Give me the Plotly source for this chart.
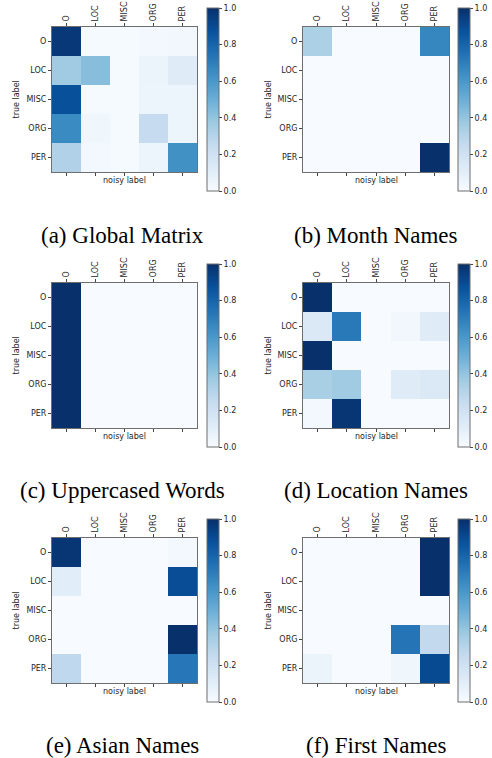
import plotly.graph_objects as go

labels = ["O", "LOC", "MISC", "ORG", "PER"]

global_matrix = [
    [0.97, 0.01, 0.01, 0.02, 0.03],
    [0.37, 0.43, 0.01, 0.06, 0.12],
    [0.88, 0.01, 0.01, 0.05, 0.05],
    [0.65, 0.04, 0.01, 0.25, 0.05],
    [0.32, 0.02, 0.01, 0.05, 0.63],
]
month_names = [
    [0.33, 0.0, 0.0, 0.0, 0.67],
    [0.0, 0.0, 0.0, 0.0, 0.0],
    [0.0, 0.0, 0.0, 0.0, 0.0],
    [0.0, 0.0, 0.0, 0.0, 0.0],
    [0.0, 0.0, 0.0, 0.0, 1.0],
]
uppercased_words = [
    [1.0, 0.0, 0.0, 0.0, 0.0],
    [1.0, 0.0, 0.0, 0.0, 0.0],
    [1.0, 0.0, 0.0, 0.0, 0.0],
    [1.0, 0.0, 0.0, 0.0, 0.0],
    [1.0, 0.0, 0.0, 0.0, 0.0],
]
location_names = [
    [1.0, 0.0, 0.0, 0.0, 0.0],
    [0.14, 0.72, 0.0, 0.03, 0.12],
    [1.0, 0.0, 0.0, 0.0, 0.0],
    [0.34, 0.37, 0.0, 0.12, 0.14],
    [0.02, 0.98, 0.0, 0.0, 0.0],
]
asian_names = [
    [0.98, 0.0, 0.0, 0.0, 0.02],
    [0.11, 0.0, 0.0, 0.0, 0.89],
    [0.0, 0.0, 0.0, 0.0, 0.0],
    [0.0, 0.0, 0.0, 0.0, 1.0],
    [0.27, 0.0, 0.0, 0.0, 0.73],
]
first_names = [
    [0.0, 0.0, 0.0, 0.0, 1.0],
    [0.0, 0.0, 0.0, 0.0, 1.0],
    [0.0, 0.0, 0.0, 0.0, 0.0],
    [0.0, 0.0, 0.0, 0.74, 0.26],
    [0.06, 0.0, 0.0, 0.04, 0.90],
]

matrices = [global_matrix, month_names, uppercased_words,
            location_names, asian_names, first_names]
captions = ["(a) Global Matrix", "(b) Month Names", "(c) Uppercased Words",
            "(d) Location Names", "(e) Asian Names", "(f) First Names"]
cbar_ticks = [0.0, 0.2, 0.4, 0.6, 0.8, 1.0]

blues = [
    [0.0, "#f7fbff"], [0.125, "#deebf7"], [0.25, "#c6dbef"],
    [0.375, "#9ecae1"], [0.5, "#6baed6"], [0.625, "#4292c6"],
    [0.75, "#2171b5"], [0.875, "#08519c"], [1.0, "#08306b"],
]

W, H = 492, 758
col_x = [(52, 197), (303, 449)]
row_y = [(27, 172), (283, 428), (538, 683)]
cbar_x = [207, 458]
cbar_y = [(8, 191), (264, 447), (519, 702)]
cap_x = [122, 376]
cap_y = [236, 490, 745]
ttl_x = [16, 268]

def px(x):
    return x / W

def py(y):
    return 1 - y / H

fig = go.Figure()
annotations = []
tick_font = dict(family="DejaVu Sans", size=8, color="#262626")
line_col = "#6e6e6e"

for i, mat in enumerate(matrices):
    r, c = divmod(i, 2)
    n = i + 1
    xa = "x" if n == 1 else f"x{n}"
    ya = "y" if n == 1 else f"y{n}"
    cy0, cy1 = cbar_y[r]
    fig.add_trace(go.Heatmap(
        z=mat, x=labels, y=labels, xaxis=xa, yaxis=ya,
        zmin=0, zmax=1, colorscale=blues, xgap=0, ygap=0,
        hoverinfo="skip",
        colorbar=dict(
            x=px(cbar_x[c]), xanchor="left", xref="paper",
            y=py((cy0 + cy1) / 2), yanchor="middle", yref="paper",
            len=(cy1 - cy0) / H, lenmode="fraction",
            thickness=12, thicknessmode="pixels",
            outlinecolor=line_col, outlinewidth=1,
            ticks="outside", ticklen=3, tickcolor="#444",
            tickvals=cbar_ticks, tickformat=".1f",
            tickfont=tick_font, xpad=0, ypad=0,
        ),
    ))
    x0, x1 = col_x[c]
    y0, y1 = row_y[r]
    key_x = "xaxis" if n == 1 else f"xaxis{n}"
    key_y = "yaxis" if n == 1 else f"yaxis{n}"
    fig.layout[key_x] = dict(
        domain=[px(x0), px(x1)], anchor=ya, side="top",
        tickangle=-90, ticks="outside", ticklen=3, tickcolor="#444",
        showline=True, linecolor=line_col, linewidth=1, mirror="ticks",
        tickfont=tick_font, showgrid=False, zeroline=False,
        categoryorder="array", categoryarray=labels, fixedrange=True,
    )
    fig.layout[key_y] = dict(
        domain=[py(y1), py(y0)], anchor=xa,
        autorange="reversed", ticks="outside", ticklen=3, tickcolor="#444",
        showline=True, linecolor=line_col, linewidth=1, mirror=True,
        tickfont=tick_font, showgrid=False, zeroline=False,
        categoryorder="array", categoryarray=labels, fixedrange=True,
    )
    annotations.append(dict(
        text="noisy label", x=px((x0 + x1) / 2), y=py(y1 + 2),
        xref="paper", yref="paper", xanchor="center", yanchor="top",
        showarrow=False, font=tick_font,
    ))
    annotations.append(dict(
        text="true label", x=px(ttl_x[c]), y=py((y0 + y1) / 2),
        xref="paper", yref="paper", xanchor="center", yanchor="middle",
        textangle=-90, showarrow=False, font=tick_font,
    ))
    annotations.append(dict(
        text=captions[i], x=px(cap_x[c]), y=py(cap_y[r]),
        xref="paper", yref="paper", xanchor="center", yanchor="middle",
        showarrow=False,
        font=dict(family="Liberation Serif", size=23, color="#000"),
    ))

fig.update_layout(
    width=W, height=H, margin=dict(l=0, r=0, t=0, b=0),
    paper_bgcolor="white", plot_bgcolor="white",
    annotations=annotations, showlegend=False,
)

fig.write_html(
    "out.html",
    config={"displayModeBar": False},
    post_script="document.body.style.margin='0';"
                "document.body.style.overflow='hidden';",
)
